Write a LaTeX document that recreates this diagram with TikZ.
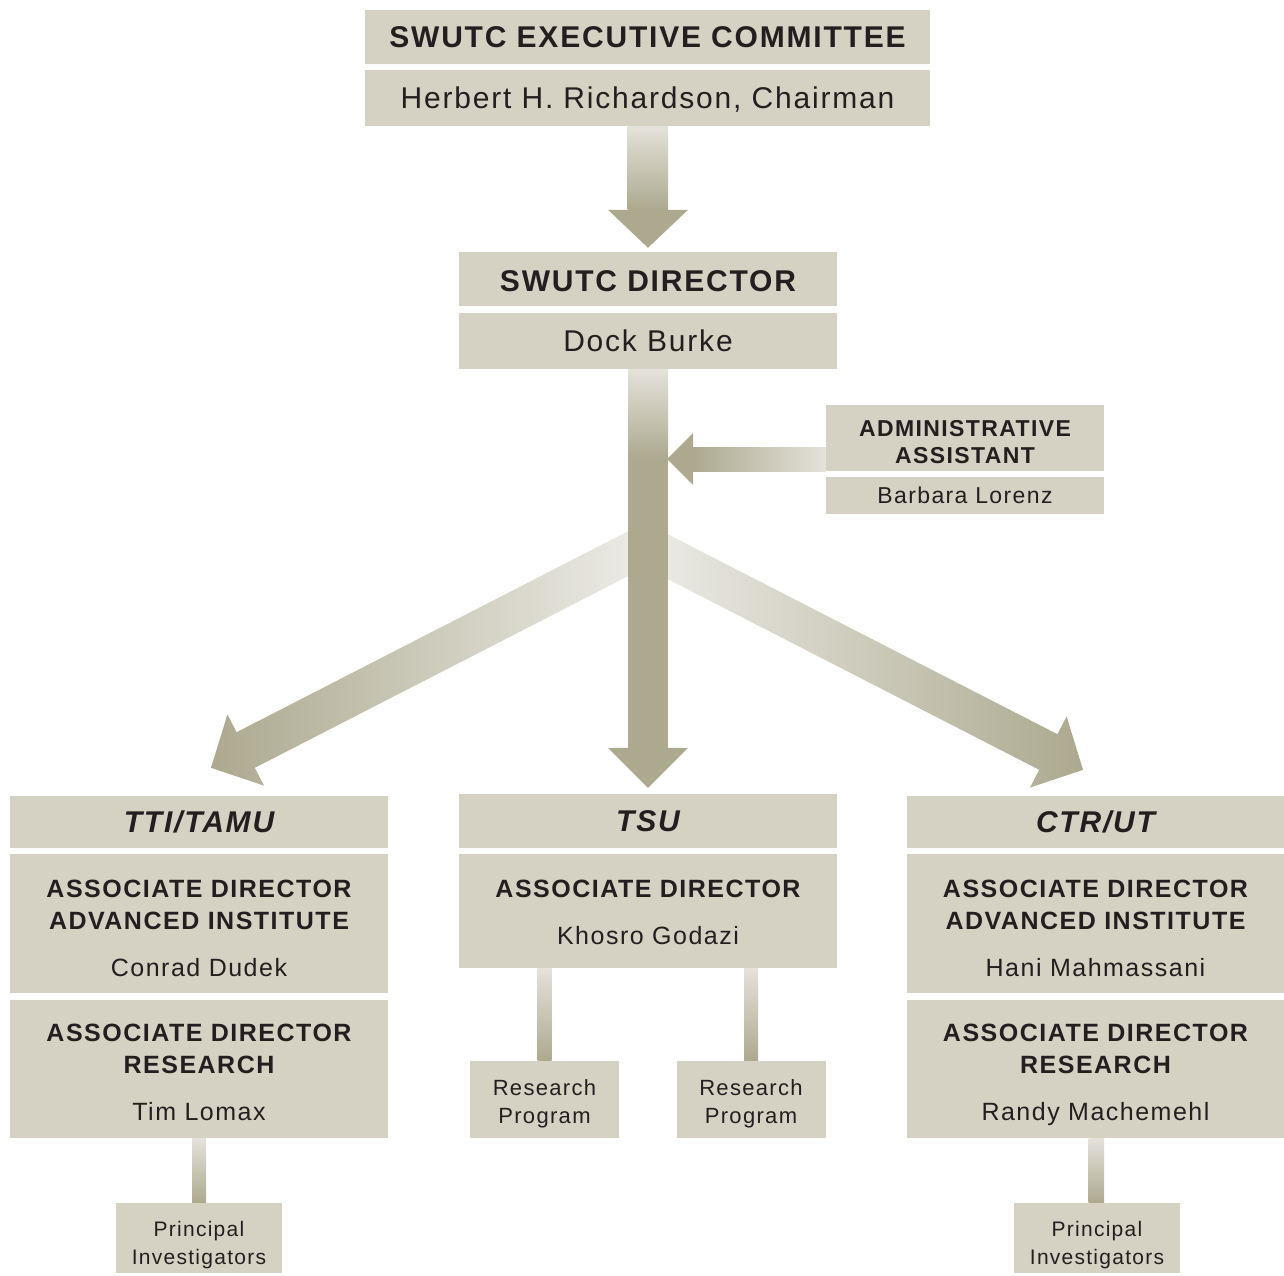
\documentclass[tikz,border=0pt]{standalone}
\usepackage{fontspec}
\setmainfont{Liberation Sans}[LetterSpace=6]
\usepackage{tikz}
\usetikzlibrary{calc}
\definecolor{boxfill}{RGB}{214,210,195}
\definecolor{arrowdark}{RGB}{172,169,143}
\definecolor{arrowlight}{RGB}{228,226,218}
\definecolor{forklight}{RGB}{238,237,232}
\definecolor{ink}{RGB}{35,31,32}
% struts that fix where the lines of a box sit
\newcommand{\orgtop}[1]{\rule{0pt}{#1}}
\newcommand{\orgbot}{\rule[-6pt]{0pt}{6pt}}

\begin{document}
\begin{tikzpicture}[x=1pt,y=-1pt,
  orgbox/.style={fill=boxfill,text=ink,inner sep=0pt,align=center},
  bighead/.style={orgbox,font=\bfseries\fontsize{30}{36}\selectfont},
  bigname/.style={orgbox,font=\fontsize{30}{36}\selectfont},
  unithead/.style={orgbox,font=\bfseries\itshape\fontsize{30}{36}\selectfont},
  assoc/.style={orgbox,font=\bfseries\fontsize{25}{32}\selectfont},
  adminbox/.style={orgbox,font=\fontsize{23}{27}\selectfont},
  smallbox/.style={orgbox,font=\fontsize{22}{28}\selectfont}]
\useasboundingbox (0,0) rectangle (1284,1275);
% The top boxes
\node[bighead,minimum width=565,minimum height=54] (exechead) at (647.5,37) {SWUTC EXECUTIVE COMMITTEE};
\node[bigname,text depth=0pt,minimum width=565,minimum height=56] (execname) at (647.5,98) {Herbert H. Richardson, Chairman};
\node[bighead,minimum width=378,minimum height=54] (dirhead) at (648,279) {\orgtop{31pt}SWUTC DIRECTOR\orgbot};
\node[bigname,minimum width=378,minimum height=56] (dirname) at (648,341) {Dock Burke};
\node[adminbox,font=\bfseries\fontsize{23}{27}\selectfont,minimum width=278,minimum height=66] (adminhead) at (965,438) {\orgtop{29pt}ADMINISTRATIVE\\ASSISTANT\orgbot};
\node[adminbox,minimum width=278,minimum height=37] (adminname) at (965,495.5) {Barbara Lorenz};
% The three units
\node[unithead,minimum width=378,minimum height=52] (tti) at (199,822) {TTI/TAMU};
\node[assoc,minimum width=378,minimum height=139] (ttiad) at (199,923.5) {\orgtop{32pt}ASSOCIATE DIRECTOR\\ADVANCED INSTITUTE\\[15pt]{\mdseries Conrad Dudek\orgbot}};
\node[assoc,minimum width=378,minimum height=138] (ttires) at (199,1069) {\orgtop{29pt}ASSOCIATE DIRECTOR\\RESEARCH\\[15pt]{\mdseries Tim Lomax\orgbot}};
\node[unithead,minimum width=378,minimum height=54] (tsu) at (648,821) {TSU};
\node[assoc,minimum width=378,minimum height=114] (tsuad) at (648,911) {\orgtop{25pt}ASSOCIATE DIRECTOR\\[15pt]{\mdseries Khosro Godazi\orgbot}};
\node[unithead,minimum width=377,minimum height=52] (ctr) at (1095.5,822) {CTR/UT};
\node[assoc,minimum width=377,minimum height=139] (ctrad) at (1095.5,923.5) {\orgtop{32pt}ASSOCIATE DIRECTOR\\ADVANCED INSTITUTE\\[15pt]{\mdseries Hani Mahmassani\orgbot}};
\node[assoc,minimum width=377,minimum height=138] (ctrres) at (1095.5,1069) {\orgtop{29pt}ASSOCIATE DIRECTOR\\RESEARCH\\[15pt]{\mdseries Randy Machemehl\orgbot}};
% The small boxes
\node[smallbox,minimum width=149,minimum height=77] (rp1) at (544.5,1099.5) {\orgtop{25pt}Research\\Program\orgbot};
\node[smallbox,minimum width=149,minimum height=77] (rp2) at (751,1099.5) {\orgtop{25pt}Research\\Program\orgbot};
\node[smallbox,font=\fontsize{21}{28}\selectfont,minimum width=166,minimum height=70] (pi1) at (199,1238) {\orgtop{31pt}Principal\\Investigators\orgbot};
\node[smallbox,font=\fontsize{21}{28}\selectfont,minimum width=166,minimum height=70] (pi2) at (1097,1238) {\orgtop{31pt}Principal\\Investigators\orgbot};

% The big arrows
\coordinate (fork) at (645,545);
\coordinate (tipL) at ($(tti.north)+(12,-28)$);
\coordinate (tipR) at ($(ctr.north)+(-12.5,-26)$);
\coordinate (baseL) at ($(tipL)!39pt!(fork)$);
\coordinate (baseR) at ($(tipR)!39pt!(fork)$);
\shade[left color=arrowdark,right color=forklight]
  ($(fork)!20pt!90:(tipL)$) -- ($(baseL)!20pt!90:(tipL)$) -- ($(baseL)!40pt!90:(tipL)$) -- (tipL)
  -- ($(baseL)!40pt!-90:(tipL)$) -- ($(baseL)!20pt!-90:(tipL)$) -- ($(fork)!20pt!-90:(tipL)$) -- cycle;
\shade[left color=forklight,right color=arrowdark]
  ($(fork)!20pt!90:(tipR)$) -- ($(baseR)!20pt!90:(tipR)$) -- ($(baseR)!40pt!90:(tipR)$) -- (tipR)
  -- ($(baseR)!40pt!-90:(tipR)$) -- ($(baseR)!20pt!-90:(tipR)$) -- ($(fork)!20pt!-90:(tipR)$) -- cycle;

\coordinate (tip1) at ($(dirhead.north)+(0,-4)$);
\shade[top color=arrowlight,bottom color=arrowdark] ($(execname.south)+(-20,0)$) rectangle ($(tip1)+(20,-38)$);
\fill[arrowdark] ($(tip1)+(-40,-38)$) -- ($(tip1)+(40,-38)$) -- (tip1) -- cycle;

\coordinate (tip2) at ($(tsu.north)+(0,-6)$);
\shade[top color=arrowlight,bottom color=arrowdark] ($(dirname.south)+(-20,0)$) rectangle ($(dirname.south)+(20,90)$);
\fill[arrowdark] ($(dirname.south)+(-20,90)$) rectangle ($(tip2)+(20,-40)$);
\fill[arrowdark] ($(tip2)+(-40,-40)$) -- ($(tip2)+(40,-40)$) -- (tip2) -- cycle;

\coordinate (tip3) at (667,459);
\shade[left color=arrowdark,right color=arrowlight] ($(tip3)+(26,-12)$) rectangle ($(adminhead.west |- tip3)+(0,12)$);
\fill[arrowdark] ($(tip3)+(26,-26)$) -- ($(tip3)+(26,26)$) -- (tip3) -- cycle;

% The thin bars
\shade[top color=arrowlight,bottom color=arrowdark] ($(ttires.south)+(-7,0)$) rectangle ($(pi1.north)+(7,0)$);
\shade[top color=arrowlight,bottom color=arrowdark] ($(rp1.north |- tsuad.south)+(-7,0)$) rectangle ($(rp1.north)+(7,0)$);
\shade[top color=arrowlight,bottom color=arrowdark] ($(rp2.north |- tsuad.south)+(-7,0)$) rectangle ($(rp2.north)+(7,0)$);
\shade[top color=arrowlight,bottom color=arrowdark] ($(ctrres.south)+(-7,0)$) rectangle ($(pi2.north)+(7,0)$);
\end{tikzpicture}
\end{document}
